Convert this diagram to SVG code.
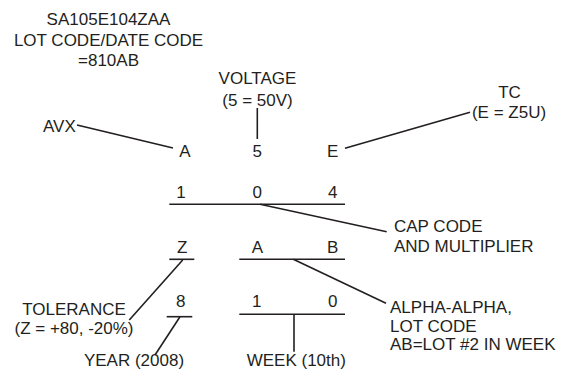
<svg xmlns="http://www.w3.org/2000/svg" width="571" height="370" viewBox="0 0 571 370">
<style>
text{font-family:"Liberation Sans",Arial,sans-serif;font-size:17px;fill:#231f20}
.m{text-anchor:middle}
line,polyline{stroke:#231f20;stroke-width:1.6;fill:none}
</style>
<rect width="571" height="370" fill="#fff"/>
<g id="title">
<text class="m" x="108.5" y="25">SA105E104ZAA</text>
<text class="m" x="108.5" y="45.5">LOT CODE/DATE CODE</text>
<text class="m" x="108.5" y="66">=810AB</text>
</g>
<g id="avx"><text x="43" y="131.5">AVX</text></g>
<g id="voltage">
<text class="m" x="257.5" y="84">VOLTAGE</text>
<text class="m" x="257.5" y="105.5">(5 = 50V)</text>
</g>
<g id="tc">
<text class="m" x="509.5" y="98">TC</text>
<text class="m" x="509" y="118">(E = Z5U)</text>
</g>
<g id="row1">
<text class="m" x="185" y="156.5">A</text>
<text class="m" x="257.3" y="156.5">5</text>
<text class="m" x="332.7" y="156.5">E</text>
</g>
<g id="row2">
<text class="m" x="181" y="198.3">1</text>
<text class="m" x="257.3" y="198.3">0</text>
<text class="m" x="332.7" y="198.3">4</text>
</g>
<g id="capcode">
<text x="394" y="232.3">CAP CODE</text>
<text x="394" y="251.7">AND MULTIPLIER</text>
</g>
<g id="row3">
<text class="m" x="182.3" y="253.3">Z</text>
<text class="m" x="257.3" y="253.3">A</text>
<text class="m" x="332.7" y="253.3">B</text>
</g>
<g id="tolerance">
<text class="m" x="74" y="315">TOLERANCE</text>
<text class="m" x="74" y="334.3">(Z = +80, -20%)</text>
</g>
<g id="row4">
<text class="m" x="180.7" y="306.7">8</text>
<text class="m" x="256.7" y="307.3">1</text>
<text class="m" x="332.7" y="307.3">0</text>
</g>
<g id="alpha">
<text x="390" y="313.3">ALPHA-ALPHA,</text>
<text x="390" y="331.7">LOT CODE</text>
<text x="390" y="350">AB=LOT #2 IN WEEK</text>
</g>
<g id="year"><text class="m" x="134" y="365.5">YEAR (2008)</text></g>
<g id="week"><text x="246.7" y="365.5">WEEK (10th)</text></g>
<g id="connectors">
<line x1="77" y1="125" x2="173" y2="148"/>
<line x1="257.3" y1="108" x2="257.3" y2="139"/>
<line x1="345" y1="148.3" x2="470" y2="112.3"/>
<line x1="169.3" y1="204.3" x2="345" y2="204.3"/>
<line x1="260" y1="204.3" x2="386.7" y2="231.7"/>
<line x1="169.3" y1="259.3" x2="194.3" y2="259.3"/>
<line x1="239.3" y1="259.3" x2="345" y2="259.3"/>
<line x1="182.7" y1="260" x2="129.3" y2="320"/>
<line x1="293.3" y1="259.3" x2="386" y2="303.3"/>
<line x1="166.7" y1="316.7" x2="192.3" y2="316.7"/>
<line x1="180" y1="316.7" x2="155" y2="355"/>
<line x1="239.3" y1="314.3" x2="345" y2="314.3"/>
<line x1="294" y1="314.3" x2="294" y2="351.7"/>
</g>
</svg>
